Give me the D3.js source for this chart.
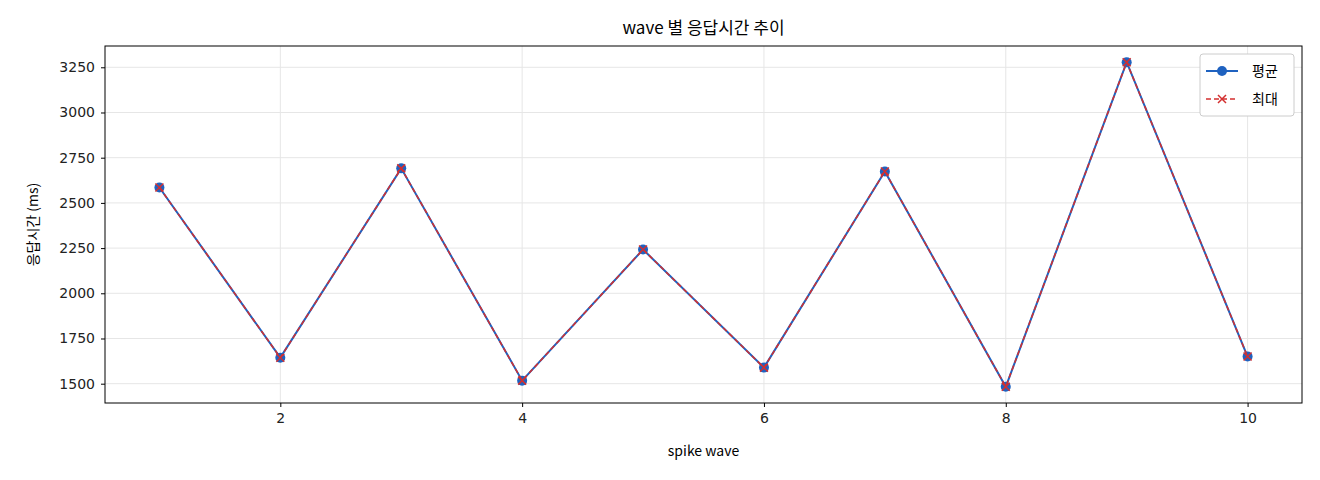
<!DOCTYPE html>
<html><head><meta charset="utf-8">
<script src="https://cdn.jsdelivr.net/npm/d3@7"></script>
<style>body{margin:0;background:#fff}text{font-family:"Noto Sans CJK KR","Noto Sans",sans-serif}</style>
</head><body><svg id="c" width="1320" height="480"></svg>
<script>
const waves=[1,2,3,4,5,6,7,8,9,10];
const avgVals=[2585,1644,2691,1517,2242,1589,2674,1483,3278,1650];
const maxVals=[2585,1644,2691,1517,2242,1589,2674,1483,3278,1650];
const yTicks=[1500,1750,2000,2250,2500,2750,3000,3250];
const xTicks=[2,4,6,8,10];
const svg=d3.select("#c");
const L=105,R=1302,T=46,B=403;
const x=d3.scaleLinear().domain([0.55,10.45]).range([L,R]);
const lo=d3.min(avgVals),hi=d3.max(avgVals),m=(hi-lo)*0.05;
const y=d3.scaleLinear().domain([lo-m,hi+m]).range([B,T]);
const g=svg.append("g");
yTicks.forEach(t=>g.append("line").attr("x1",L).attr("x2",R).attr("y1",y(t)).attr("y2",y(t)).attr("stroke","#e6e6e6"));
xTicks.forEach(t=>g.append("line").attr("y1",T).attr("y2",B).attr("x1",x(t)).attr("x2",x(t)).attr("stroke","#e6e6e6"));
const ax=svg.append("g").attr("transform",`translate(0,${B})`).call(d3.axisBottom(x).tickValues(xTicks).tickFormat(d3.format("d")).tickSize(4).tickPadding(6));
const ay=svg.append("g").attr("transform",`translate(${L},0)`).call(d3.axisLeft(y).tickValues(yTicks).tickFormat(d3.format("d")).tickSize(4).tickPadding(6));
[ax,ay].forEach(a=>{a.select(".domain").remove();a.selectAll("text").attr("font-size",14).attr("fill","#222").style("font-family","'DejaVu Sans',sans-serif");});
svg.append("rect").attr("x",L).attr("y",T).attr("width",R-L).attr("height",B-T).attr("fill","none").attr("stroke","#000");
const line=d3.line().x((d,i)=>x(waves[i])).y(d=>y(d));
svg.append("path").datum(avgVals).attr("d",line).attr("fill","none").attr("stroke","#1f62c0").attr("stroke-width",2);
svg.selectAll(".dot").data(avgVals).enter().append("circle").attr("cx",(d,i)=>x(waves[i])).attr("cy",d=>y(d)).attr("r",5).attr("fill","#1f62c0");
svg.append("path").datum(maxVals).attr("d",line).attr("fill","none").attr("stroke","#d32f2f").attr("stroke-width",1.5).attr("stroke-dasharray","5,3");
const cross=(cx,cy,s)=>`M${cx-s},${cy-s}L${cx+s},${cy+s}M${cx-s},${cy+s}L${cx+s},${cy-s}`;
svg.selectAll(".x").data(maxVals).enter().append("path").attr("d",(d,i)=>cross(x(waves[i]),y(d),4)).attr("stroke","#d32f2f").attr("stroke-width",1.5);
svg.append("text").attr("x",(L+R)/2).attr("y",34).attr("text-anchor","middle").attr("font-size",17).text("wave 별 응답시간 추이");
svg.append("text").attr("x",(L+R)/2).attr("y",456).attr("text-anchor","middle").attr("font-size",14).text("spike wave");
svg.append("text").attr("transform",`translate(38,${(T+B)/2}) rotate(-90)`).attr("text-anchor","middle").attr("font-size",14).text("응답시간 (ms)");
const lg=svg.append("g");
lg.append("rect").attr("x",1200).attr("y",54).attr("width",94).attr("height",62).attr("rx",3).attr("fill","#fff").attr("stroke","#ccc");
lg.append("line").attr("x1",1206).attr("x2",1238).attr("y1",71).attr("y2",71).attr("stroke","#1f62c0").attr("stroke-width",2);
lg.append("circle").attr("cx",1222).attr("cy",71).attr("r",5).attr("fill","#1f62c0");
lg.append("text").attr("x",1252).attr("y",76).attr("font-size",14).text("평균");
lg.append("line").attr("x1",1206).attr("x2",1238).attr("y1",99).attr("y2",99).attr("stroke","#d32f2f").attr("stroke-width",1.5).attr("stroke-dasharray","5,3");
lg.append("path").attr("d",cross(1222,99,4)).attr("stroke","#d32f2f").attr("stroke-width",1.5);
lg.append("text").attr("x",1252).attr("y",104).attr("font-size",14).text("최대");
</script></body></html>
